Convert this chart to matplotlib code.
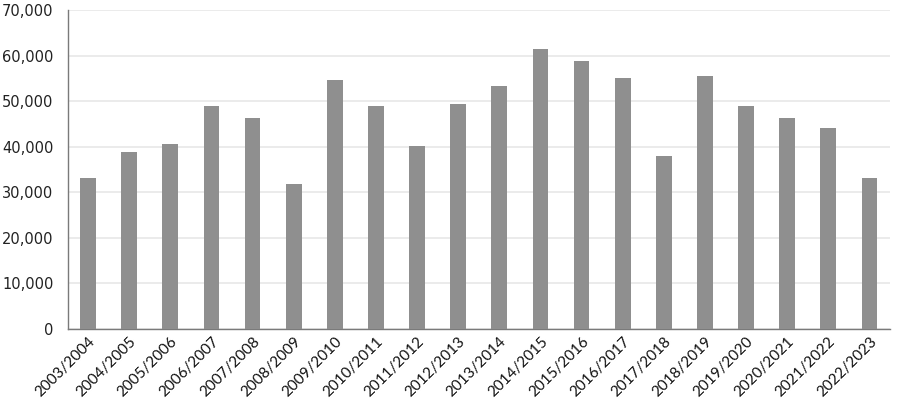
import matplotlib
matplotlib.use("Agg")
import matplotlib.pyplot as plt
from matplotlib.ticker import FuncFormatter, MultipleLocator

seasons = ["2003/2004", "2004/2005", "2005/2006", "2006/2007", "2007/2008",
           "2008/2009", "2009/2010", "2010/2011", "2011/2012", "2012/2013",
           "2013/2014", "2014/2015", "2015/2016", "2016/2017", "2017/2018",
           "2018/2019", "2019/2020", "2020/2021", "2021/2022", "2022/2023"]
values = [33100, 38900, 40600, 48900, 46300,
          31900, 54600, 48900, 40100, 49300,
          53400, 61500, 58900, 55100, 37900,
          55500, 48900, 46300, 44000, 33100]

fig = plt.figure(figsize=(9.0, 4.13), dpi=100)
ax = fig.add_axes([67.5/900, 1 - 329/413, (890 - 67.5)/900, (329 - 10)/413])

x = list(range(len(seasons)))
ax.bar(x, values, width=0.38, color="#8f8f8f", zorder=3)

ax.set_xlim(-0.5, len(seasons) - 0.5)
ax.set_ylim(0, 70000)
ax.yaxis.set_major_locator(MultipleLocator(10000))
ax.yaxis.set_major_formatter(FuncFormatter(lambda v, p: f"{int(v):,}"))
ax.grid(axis="y", color="#e8e8e8", linewidth=1.2, zorder=0)

for s in ["top", "right"]:
    ax.spines[s].set_visible(False)
for s in ["left", "bottom"]:
    ax.spines[s].set_color("#7a7a7a")
    ax.spines[s].set_linewidth(1.0)

ax.tick_params(axis="y", length=0, pad=10, labelsize=10.5, labelcolor="#222222")
ax.tick_params(axis="x", length=0, pad=4)
ax.set_xticks(x)
ax.set_xticklabels(seasons, rotation=45, ha="right", rotation_mode="anchor",
                   fontsize=11, family=["Lato", "DejaVu Sans"], color="#111111")

fig.savefig("out.png", dpi=100)
